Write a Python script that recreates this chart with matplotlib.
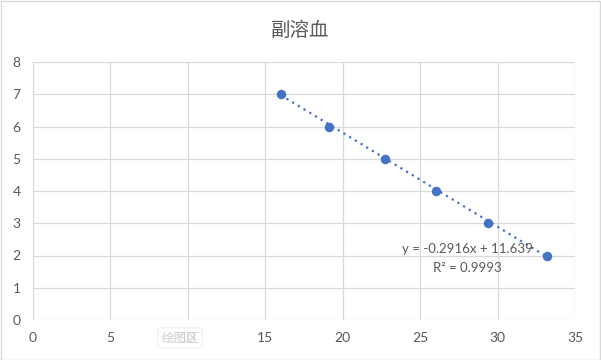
import numpy as np
import matplotlib.pyplot as plt
from matplotlib.patches import Rectangle

plt.rcParams['font.family'] = ['Noto Sans CJK SC', 'DejaVu Sans']

# data
x_vals = [16.0, 19.1, 22.7, 26.0, 29.4, 33.2]
y_vals = [7, 6, 5, 4, 3, 2]
slope = -0.2916
intercept = 11.639
r2 = 0.9993
title = "副溶血"

text_c = "#595959"
grid_c = "#d9d9d9"
blue = "#4472c4"
num_font = ['Lato', 'DejaVu Sans']

fig = plt.figure(figsize=(6.01, 3.6), dpi=100)
ax = fig.add_axes([33 / 601, 40 / 360, 542 / 601, 258 / 360])

ax.set_xlim(0, 35)
ax.set_ylim(0, 8)
ax.set_xticks(np.arange(0, 36, 5))
ax.set_yticks(np.arange(0, 9, 1))
ax.grid(True, color=grid_c, linewidth=0.9)
ax.set_axisbelow(True)
for s in ax.spines.values():
    s.set_visible(False)
ax.tick_params(length=0, labelsize=10, colors=text_c, pad=9)
for lbl in ax.get_xticklabels() + ax.get_yticklabels():
    lbl.set_family(num_font)

# trendline
xs = np.array([min(x_vals), max(x_vals)])
ax.plot(xs, slope * xs + intercept, linestyle=(0, (1, 2)), color=blue,
        linewidth=1.6, zorder=2)
ax.scatter(x_vals, y_vals, s=34, color=blue, zorder=3)

ax.text(467 / 601, (360 - 249) / 360, f"y = {slope}x + {intercept}",
        transform=fig.transFigure, ha="center", va="center",
        fontsize=9.5, color=text_c, family=num_font)
ax.text(467 / 601, (360 - 268) / 360, f"R² = {r2}",
        transform=fig.transFigure, ha="center", va="center",
        fontsize=9.5, color=text_c, family=num_font)

fig.text(0.5, (360 - 30) / 360, title, ha="center", va="center",
         fontsize=14, color=text_c)

# faint tooltip left by the source application
fig.text(180 / 601, (360 - 338) / 360, "绘图区", ha="center", va="center",
         fontsize=9, color="#cccccc",
         bbox=dict(boxstyle="round,pad=0.3", facecolor="white",
                   edgecolor="#eeeeee", alpha=0.8), zorder=5)

fig.patches.append(Rectangle((0.5 / 601, 0.5 / 360), 599 / 601, 359 / 360,
                             transform=fig.transFigure, fill=False,
                             edgecolor="#d9d9d9", linewidth=1))

fig.savefig("out.png", dpi=100)
